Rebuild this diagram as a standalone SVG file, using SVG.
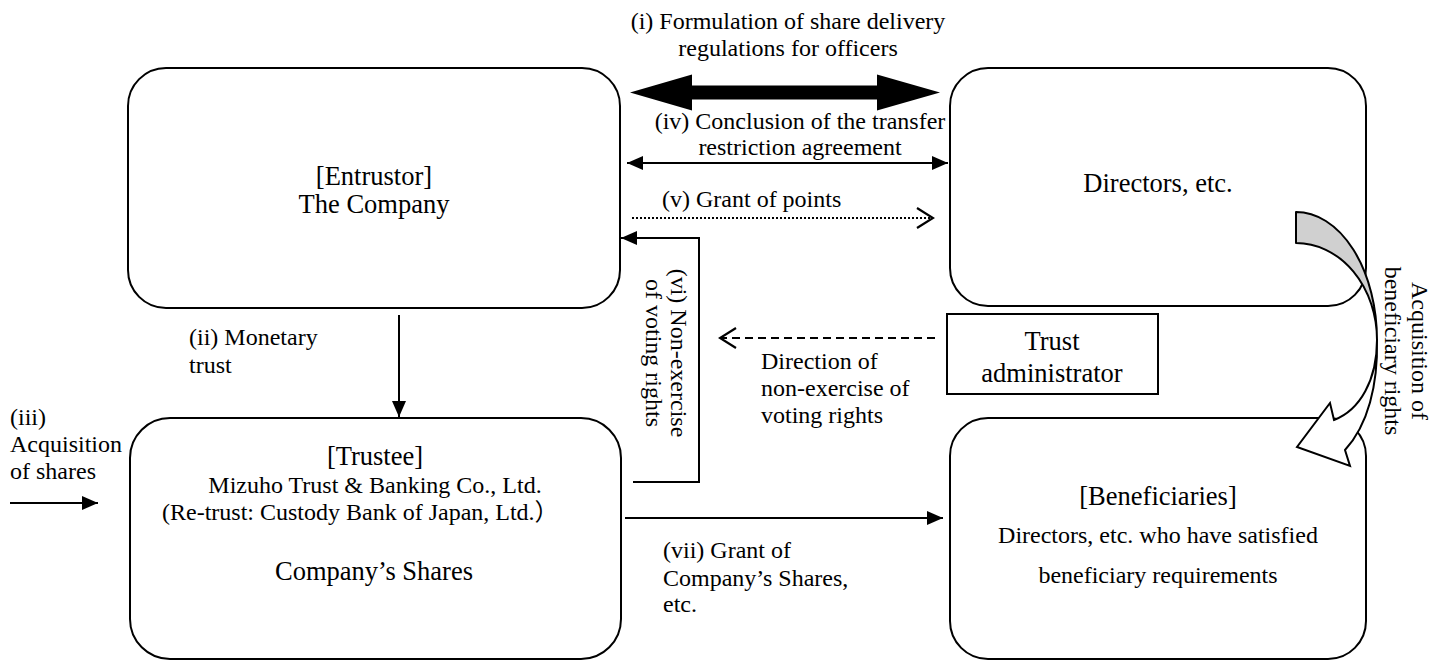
<svg xmlns="http://www.w3.org/2000/svg" width="1442" height="671" viewBox="0 0 1442 671">
<style>
  text { font-family: "Liberation Serif", "Noto Sans CJK JP", serif; fill: #000; }
  .t24 { font-size: 24px; }
  .t26 { font-size: 26.5px; }
  .mid { text-anchor: middle; }
  .box { fill: #fff; stroke: #000; stroke-width: 2; }
  .ln { fill: none; stroke: #000; stroke-width: 2; }
</style>
<defs>
  <marker id="tri" viewBox="0 0 16 14" refX="16" refY="7" markerWidth="16" markerHeight="14" markerUnits="userSpaceOnUse" orient="auto-start-reverse">
    <path d="M0,0 L16,7 L0,14 z" fill="#000"/>
  </marker>
  <marker id="chev" viewBox="0 0 20 22" refX="18" refY="11" markerWidth="20" markerHeight="22" markerUnits="userSpaceOnUse" orient="auto">
    <path d="M2,1 L18,11 L2,21" fill="none" stroke="#000" stroke-width="2.2"/>
  </marker>
</defs>
<rect width="1442" height="671" fill="#fff"/>

<g id="entrustor">
  <rect class="box" x="128" y="68" width="492" height="240" rx="38" ry="38"/>
  <text class="t26 mid" x="374" y="185">[Entrustor]</text>
  <text class="t26 mid" x="374" y="213">The Company</text>
</g>

<g id="directors">
  <rect class="box" x="950" y="68" width="416" height="238" rx="38" ry="38"/>
  <text class="t26 mid" x="1158" y="192">Directors, etc.</text>
</g>

<g id="trustee">
  <rect class="box" x="130" y="418" width="491" height="241" rx="40" ry="40"/>
  <text class="t26 mid" x="375" y="465">[Trustee]</text>
  <text class="t24 mid" x="375" y="493">Mizuho Trust &amp; Banking Co., Ltd.</text>
  <text class="t24" x="162" y="520">(Re-trust: Custody Bank of Japan, Ltd.）</text>
  <text class="t26 mid" x="374" y="580">Company’s Shares</text>
</g>

<g id="beneficiaries">
  <rect class="box" x="950" y="418" width="416" height="241" rx="38" ry="38"/>
  <text class="t26 mid" x="1158" y="505">[Beneficiaries]</text>
  <text class="t24 mid" x="1158" y="543">Directors, etc. who have satisfied</text>
  <text class="t24 mid" x="1158" y="583">beneficiary requirements</text>
</g>

<g id="trust-administrator">
  <rect class="box" x="947" y="314" width="211" height="80"/>
  <text class="t26 mid" x="1052" y="350">Trust</text>
  <text class="t26 mid" x="1052" y="382">administrator</text>
</g>

<g id="connectors">
  <!-- (i) thick double arrow -->
  <polygon points="630,92.5 692,74.5 692,85.5 877,85.5 877,74.5 940,92.5 877,110.5 877,99.5 692,99.5 692,110.5" fill="#000"/>
  <!-- (iv) thin double arrow -->
  <line class="ln" x1="627" y1="163" x2="948" y2="163" marker-start="url(#tri)" marker-end="url(#tri)"/>
  <!-- (v) dotted arrow -->
  <line x1="632" y1="218" x2="933" y2="218" stroke="#000" stroke-width="2" stroke-dasharray="2,2" marker-end="url(#chev)"/>
  <!-- (vi) return arrow -->
  <path class="ln" d="M633,482 L699,482 L699,238 L621,238" marker-end="url(#tri)"/>
  <!-- (ii) monetary trust -->
  <line class="ln" x1="399" y1="315" x2="399" y2="417" marker-end="url(#tri)"/>
  <!-- (iii) acquisition of shares -->
  <line class="ln" x1="10" y1="503" x2="98" y2="503" marker-end="url(#tri)"/>
  <!-- (vii) grant -->
  <line class="ln" x1="625" y1="518" x2="943" y2="518" marker-end="url(#tri)"/>
  <!-- direction dashed -->
  <line x1="935" y1="338" x2="720" y2="338" stroke="#000" stroke-width="2" stroke-dasharray="8,5" marker-end="url(#chev)"/>
  <!-- curved arrow -->
  <path d="M1296,212 A81,128 0 0 1 1377,340 A81,97 0 0 0 1296,243 Z" fill="#d0d0d0" stroke="#000" stroke-width="2" stroke-linejoin="round"/>
  <path d="M1377,340 C1377,380 1360,410 1334,420 L1330,403 L1297,447 L1350,466 L1345,450 C1368,425 1378,385 1377,340 Z" fill="#fff" stroke="#000" stroke-width="2" stroke-linejoin="miter"/>
</g>

<g id="labels">
  <text class="t24 mid" x="788" y="29">(i) Formulation of share delivery</text>
  <text class="t24 mid" x="788" y="56">regulations for officers</text>
  <text class="t24 mid" x="800" y="129">(iv) Conclusion of the transfer</text>
  <text class="t24 mid" x="800" y="155">restriction agreement</text>
  <text class="t24" x="662" y="207">(v) Grant of points</text>
  <text class="t24" x="189" y="345">(ii) Monetary</text>
  <text class="t24" x="189" y="373">trust</text>
  <text class="t24" x="10" y="425">(iii)</text>
  <text class="t24" x="10" y="452">Acquisition</text>
  <text class="t24" x="10" y="479">of shares</text>
  <text class="t24" x="663" y="558">(vii) Grant of</text>
  <text class="t24" x="663" y="586">Company’s Shares,</text>
  <text class="t24" x="663" y="612">etc.</text>
  <text class="t24" x="761" y="369">Direction of</text>
  <text class="t24" x="761" y="396">non-exercise of</text>
  <text class="t24" x="761" y="423">voting rights</text>
  <g transform="translate(671,353) rotate(90)">
    <text class="t24 mid" x="0" y="0">(vi) Non-exercise</text>
    <text class="t24 mid" x="0" y="25">of voting rights</text>
  </g>
  <g transform="translate(1412,351) rotate(90)">
    <text class="t24 mid" x="0" y="0">Acquisition of</text>
    <text class="t24 mid" x="0" y="27">beneficiary rights</text>
  </g>
</g>
</svg>
